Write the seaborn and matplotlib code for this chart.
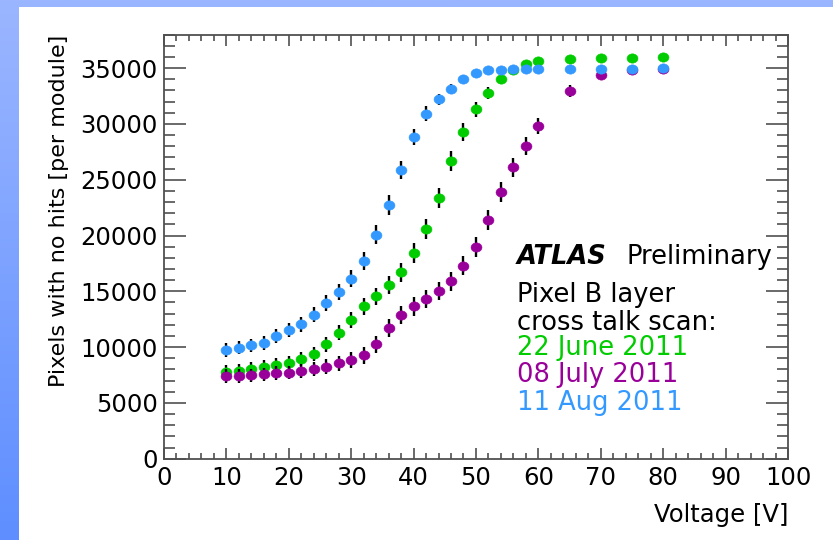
import numpy as np
import pandas as pd
import matplotlib
matplotlib.use("Agg")
import matplotlib.pyplot as plt
from matplotlib.colors import LinearSegmentedColormap
from matplotlib.patches import Rectangle
from matplotlib.path import Path
from matplotlib.markers import MarkerStyle
from matplotlib.ticker import MultipleLocator
import seaborn as sns

# ---- data: bias voltage scan of the Pixel B layer ----
voltage = [10, 12, 14, 16, 18, 20, 22, 24, 26, 28, 30, 32, 34, 36, 38, 40,
           42, 44, 46, 48, 50, 52, 54, 56, 58, 60, 65, 70, 75, 80]

june_hits = [7800, 7900, 8050, 8250, 8400, 8600, 8950, 9400, 10250, 11300,
             12450, 13650, 14550, 15600, 16700, 18450, 20600, 23400, 26700,
             29300, 31300, 32800, 34000, 34800, 35350, 35600, 35850, 35900,
             35900, 36000]
june_err = [600, 600, 600, 600, 620, 620, 640, 650, 680, 700, 720, 760, 780,
            800, 850, 880, 900, 900, 880, 820, 700, 550, 420, 320, 260, 220,
            200, 200, 200, 200]

july_hits = [7420, 7420, 7480, 7570, 7660, 7720, 7840, 8020, 8260, 8560,
             8860, 9250, 10270, 11700, 12900, 13650, 14340, 15000, 15900,
             17300, 19000, 21400, 23900, 26100, 28000, 29800, 32950, 34400,
             34800, 34950]
july_err = [600, 600, 600, 600, 620, 620, 640, 650, 660, 680, 700, 720, 760,
            800, 820, 820, 820, 820, 850, 880, 900, 900, 900, 880, 820, 700,
            550, 400, 280, 220]

aug_hits = [9750, 9950, 10150, 10400, 11000, 11550, 12050, 12900, 13950,
            14950, 16150, 17700, 20050, 22750, 25900, 28800, 30900, 32200,
            33150, 34050, 34550, 34850, 34850, 34900, 34950, 34950, 34900,
            34950, 34950, 35050]
aug_err = [600, 600, 600, 620, 620, 640, 650, 680, 700, 720, 760, 800, 850,
           900, 820, 720, 670, 520, 420, 320, 260, 220, 200, 200, 200, 200,
           200, 200, 200, 200]

scan_labels = ["22 June 2011", "08 July 2011", "11 Aug 2011"]
scan_colors = ["#00cc00", "#990099", "#3399ff"]

x_ticks = list(range(0, 101, 10))
y_ticks = list(range(0, 35001, 5000))

frames = []
for lab, hits, err in zip(scan_labels,
                          [june_hits, july_hits, aug_hits],
                          [june_err, july_err, aug_err]):
    frames.append(pd.DataFrame({"voltage": voltage, "hits": hits,
                                "err": err, "scan": lab}))
df = pd.concat(frames, ignore_index=True)

# ---- style ----
sns.set_theme(style="ticks")
plt.rcParams["font.family"] = ["DejaVu Sans"]
plt.rcParams["axes.linewidth"] = 1.3
plt.rcParams["text.color"] = "black"
plt.rcParams["axes.labelcolor"] = "black"

W, H = 833, 540
fig = plt.figure(figsize=(W / 100, H / 100), dpi=100)

# slide-style frame: blue gradient band on the left and top
bg = fig.add_axes([0, 0, 1, 1], zorder=-10)
bg.axis("off")
grad = np.linspace(0, 1, 256).reshape(-1, 1)
cmap = LinearSegmentedColormap.from_list("band", ["#9bb6ff", "#5e8eff"])
bg.imshow(grad, aspect="auto", extent=[0, 1, 0, 1], cmap=cmap,
          origin="upper", interpolation="bilinear")
bg.add_patch(Rectangle((19 / W, 0), 1, (H - 7) / H, transform=bg.transAxes,
                       facecolor="white", edgecolor="none"))
bg.set_xlim(0, 1)
bg.set_ylim(0, 1)

ax = fig.add_axes([163.9 / W, 81.3 / H, (788 - 163.9) / W, (458.7 - 34.7) / H])
ax.set_facecolor("white")

# slightly wide elliptical marker
circ = Path.unit_circle()
ell = Path(circ.vertices * np.array([1.0, 0.85]), circ.codes)
ell_marker = MarkerStyle(ell)

for i, (lab, col) in enumerate(zip(scan_labels, scan_colors)):
    sub = df[df["scan"] == lab]
    ax.errorbar(sub["voltage"], sub["hits"], yerr=sub["err"], fmt="none",
                ecolor="black", elinewidth=1.7, capsize=0, zorder=2 + 2 * i)
    sns.scatterplot(data=sub, x="voltage", y="hits", color=col,
                    marker=ell_marker, s=62, linewidth=0.4, edgecolor=col,
                    ax=ax, zorder=3 + 2 * i, legend=False)

ax.set_xlim(0, 100)
ax.set_ylim(0, 38000)
ax.set_xticks(x_ticks)
ax.set_yticks(y_ticks)
ax.xaxis.set_minor_locator(MultipleLocator(2))
ax.yaxis.set_minor_locator(MultipleLocator(1000))

spine_col = "#505050"
for s in ax.spines.values():
    s.set_color(spine_col)
    s.set_visible(True)
ax.tick_params(axis="both", which="both", direction="in", top=True,
               right=True, color=spine_col, width=1.2, labelsize=17.5,
               labelcolor="black")
ax.tick_params(axis="x", which="major", length=8, pad=5)
ax.tick_params(axis="x", which="minor", length=4.3)
ax.tick_params(axis="y", which="major", length=15.5, pad=4.5)
ax.tick_params(axis="y", which="minor", length=8)

ax.set_xlabel("Voltage [V]", fontsize=17.5, loc="right")
ax.xaxis.set_label_coords(1.0, -0.105)
ax.set_ylabel("Pixels with no hits [per module]", fontsize=16, loc="top")
ax.yaxis.set_label_coords(-0.152, 1.0)

# annotation block
def ybase(py):
    return (458.7 - py) / 424.0

fs = 18.5
tx = (516.7 - 163.9) / 624.1
ax.text(tx, ybase(263.5), "ATLAS", transform=ax.transAxes, fontsize=fs,
        fontweight="bold", fontstyle="italic", va="baseline", ha="left")
ax.text((626.7 - 163.9) / 624.1, ybase(263.5), "Preliminary",
        transform=ax.transAxes, fontsize=fs, va="baseline", ha="left")
ax.text(tx, ybase(302.3), "Pixel B layer", transform=ax.transAxes,
        fontsize=fs, va="baseline", ha="left")
ax.text(tx, ybase(329.7), "cross talk scan:", transform=ax.transAxes,
        fontsize=fs, va="baseline", ha="left")
for k, (lab, col) in enumerate(zip(scan_labels, scan_colors)):
    ax.text(tx, ybase(355.0 + 27.5 * k), lab, transform=ax.transAxes,
            fontsize=fs, va="baseline", ha="left", color=col)

fig.savefig("out.png", dpi=100, facecolor="white")
